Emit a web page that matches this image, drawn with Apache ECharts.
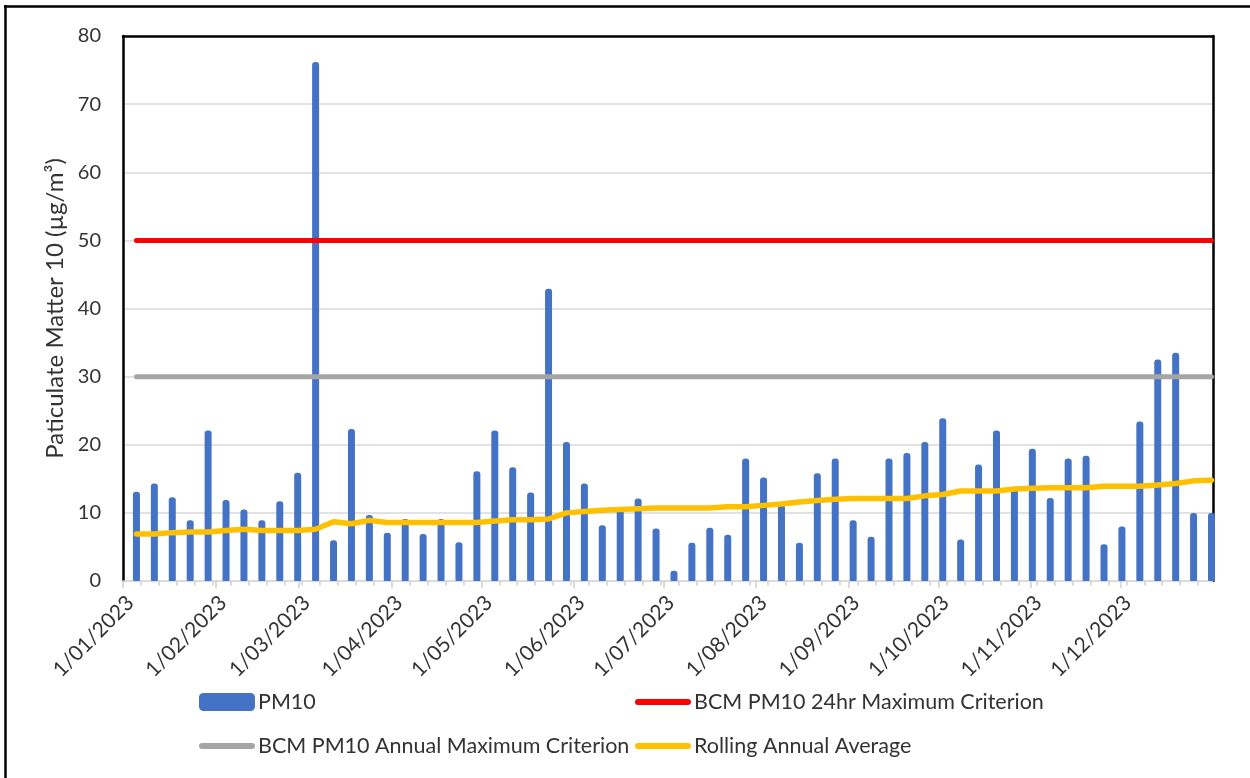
<!DOCTYPE html>
<html>
<head>
<meta charset="utf-8">
<script src="https://cdn.jsdelivr.net/npm/echarts@6/dist/echarts.min.js"></script>
<style>
  html, body { margin: 0; padding: 0; background: #ffffff; }
  #chart { width: 1250px; height: 778px; }
</style>
</head>
<body>
<div id="chart"></div>
<script>
// Sampling dates (every sixth day through 2023)
const sampleDates = [
  '2023-01-05','2023-01-11','2023-01-17','2023-01-23','2023-01-29',
  '2023-02-04','2023-02-10','2023-02-16','2023-02-22','2023-02-28',
  '2023-03-06','2023-03-12','2023-03-18','2023-03-24','2023-03-30',
  '2023-04-05','2023-04-11','2023-04-17','2023-04-23','2023-04-29',
  '2023-05-05','2023-05-11','2023-05-17','2023-05-23','2023-05-29',
  '2023-06-04','2023-06-10','2023-06-16','2023-06-22','2023-06-28',
  '2023-07-04','2023-07-10','2023-07-16','2023-07-22','2023-07-28',
  '2023-08-03','2023-08-09','2023-08-15','2023-08-21','2023-08-27',
  '2023-09-02','2023-09-08','2023-09-14','2023-09-20','2023-09-26',
  '2023-10-02','2023-10-08','2023-10-14','2023-10-20','2023-10-26',
  '2023-11-01','2023-11-07','2023-11-13','2023-11-19','2023-11-25',
  '2023-12-01','2023-12-07','2023-12-13','2023-12-19','2023-12-25','2023-12-31'
];

// 24-hour PM10 concentrations (µg/m³)
const pm10 = [
  13.1, 14.3, 12.3, 8.9, 22.1, 11.9, 10.5, 8.9, 11.7, 15.9,
  76.2, 6.0, 22.3, 9.7, 7.1, 9.1, 6.9, 9.1, 5.7, 16.1,
  22.1, 16.7, 13.0, 42.9, 20.4, 14.3, 8.2, 10.6, 12.1, 7.7,
  1.5, 5.6, 7.8, 6.8, 18.0, 15.2, 11.2, 5.6, 15.8, 18.0,
  8.9, 6.5, 18.0, 18.8, 20.4, 23.9, 6.1, 17.1, 22.1, 13.8,
  19.4, 12.2, 18.0, 18.4, 5.4, 8.0, 23.4, 32.5, 33.5, 10.0, 10.0
];

// Rolling annual average (µg/m³)
const rollingAverage = [
  6.9, 6.9, 7.1, 7.2, 7.2, 7.4, 7.6, 7.4, 7.4, 7.4,
  7.6, 8.7, 8.4, 8.9, 8.6, 8.6, 8.6, 8.6, 8.6, 8.6,
  8.8, 9.0, 9.0, 9.1, 10.0, 10.2, 10.4, 10.5, 10.6, 10.7,
  10.7, 10.7, 10.7, 10.9, 10.9, 11.1, 11.3, 11.6, 11.8, 12.0,
  12.1, 12.1, 12.1, 12.1, 12.5, 12.7, 13.2, 13.2, 13.2, 13.5,
  13.6, 13.7, 13.7, 13.7, 13.9, 13.9, 13.9, 14.1, 14.3, 14.7, 14.8
];

// Assessment criteria (µg/m³)
const criterion24hr = 50;
const criterionAnnual = 30;

// Month-start tick labels on the date axis
const monthLabels = [
  '1/01/2023','1/02/2023','1/03/2023','1/04/2023','1/05/2023','1/06/2023',
  '1/07/2023','1/08/2023','1/09/2023','1/10/2023','1/11/2023','1/12/2023'
];

// Value axis ticks
const yTicks = { min: 0, max: 80, interval: 10 };

const FONT = 'Lato';
const TEXT = '#333333';

function parseDMY(s) {
  const p = s.split('/');
  return new Date(+p[2], +p[1] - 1, +p[0]).getTime();
}
function parseISO(s, hour) {
  const p = s.split('-');
  return new Date(+p[0], +p[1] - 1, +p[2], hour || 0).getTime();
}

// each sample sits in the middle of its day
const xs = sampleDates.map(d => parseISO(d, 12));
const monthTicks = monthLabels.map(parseDMY);
const labelByTime = {};
monthLabels.forEach((l, i) => { labelByTime[monthTicks[i]] = l; });

const xMin = new Date(2023, 0, 1).getTime();
const xMax = new Date(2024, 0, 1).getTime();

// minor ticks every six days from the start of the year
const minorTicks = [];
for (let t = new Date(2023, 0, 1); t.getTime() <= xMax; t.setDate(t.getDate() + 6)) {
  minorTicks.push(t.getTime());
}

// thick rounded stroke used as the legend key for the line series
const LINE_KEY = 'path://M3,0L53,0A3,3,0,0,1,53,6L3,6A3,3,0,0,1,3,0Z';

const chart = echarts.init(document.getElementById('chart'), null, { renderer: 'canvas' });

const legendBase = {
  orient: 'horizontal',
  itemGap: 0,
  padding: 0,
  textStyle: { fontFamily: FONT, fontSize: 21.5, color: TEXT, padding: [0, 0, 0, -2] }
};

chart.setOption({
  animation: false,
  backgroundColor: '#ffffff',
  textStyle: { fontFamily: FONT },
  grid: { left: 123, right: 37, top: 36, bottom: 197, containLabel: false },
  xAxis: [
    {
      type: 'value',
      min: xMin,
      max: xMax,
      position: 'bottom',
      axisLine: { show: true, lineStyle: { color: '#d9d9d9', width: 1.5 } },
      axisTick: { show: true, customValues: monthTicks, length: 7, lineStyle: { color: '#d0d0d0', width: 1.5 } },
      axisLabel: {
        show: true,
        customValues: monthTicks,
        rotate: 45,
        margin: 11,
        verticalAlign: 'top',
        fontFamily: FONT,
        fontSize: 21,
        color: TEXT,
        formatter: v => labelByTime[v] || ''
      },
      splitLine: { show: false }
    },
    {
      type: 'value',
      min: xMin,
      max: xMax,
      position: 'bottom',
      axisLine: { show: false },
      axisTick: { show: true, customValues: minorTicks, length: 4.5, lineStyle: { color: '#d0d0d0', width: 1.5 } },
      axisLabel: { show: false },
      splitLine: { show: false }
    },
    {
      type: 'value',
      min: xMin,
      max: xMax,
      position: 'top',
      axisLine: { show: true, lineStyle: { color: '#000000', width: 2.5 } },
      axisTick: { show: false },
      axisLabel: { show: false },
      splitLine: { show: false }
    }
  ],
  yAxis: [
    {
      type: 'value',
      min: yTicks.min,
      max: yTicks.max,
      interval: yTicks.interval,
      name: 'Paticulate Matter 10 (µg/m³)',
      nameLocation: 'middle',
      nameRotate: 90,
      nameGap: 56,
      nameTextStyle: { fontFamily: FONT, fontSize: 24, color: TEXT },
      axisLine: { show: true, lineStyle: { color: '#000000', width: 2.5 } },
      axisTick: { show: false },
      axisLabel: { fontFamily: FONT, fontSize: 20, color: TEXT, margin: 22 },
      splitLine: { show: true, lineStyle: { color: '#d9d9d9', width: 1.5 } }
    },
    {
      type: 'value',
      min: yTicks.min,
      max: yTicks.max,
      position: 'right',
      axisLine: { show: true, lineStyle: { color: '#000000', width: 2.5 } },
      axisTick: { show: false },
      axisLabel: { show: false },
      splitLine: { show: false }
    }
  ],
  legend: [
    Object.assign({}, legendBase, {
      data: [{ name: 'PM10', icon: 'roundRect' }],
      left: 199, top: 691, itemWidth: 56, itemHeight: 18
    }),
    Object.assign({}, legendBase, {
      data: [{ name: 'BCM PM10 24hr Maximum Criterion', icon: LINE_KEY }],
      left: 635, top: 691, itemWidth: 56, itemHeight: 6
    }),
    Object.assign({}, legendBase, {
      data: [{ name: 'BCM PM10 Annual Maximum Criterion', icon: LINE_KEY }],
      left: 199, top: 735, itemWidth: 56, itemHeight: 6
    }),
    Object.assign({}, legendBase, {
      data: [{ name: 'Rolling Annual Average', icon: LINE_KEY }],
      left: 635, top: 735, itemWidth: 56, itemHeight: 6
    })
  ],
  graphic: [
    { type: 'line', shape: { x1: 5.5, y1: 5, x2: 5.5, y2: 778 }, style: { stroke: '#000', lineWidth: 2.5 } },
    { type: 'line', shape: { x1: 4, y1: 6.5, x2: 1250, y2: 6.5 }, style: { stroke: '#000', lineWidth: 2.5 } }
  ],
  series: [
    {
      name: 'PM10',
      type: 'bar',
      xAxisIndex: 0,
      yAxisIndex: 0,
      barWidth: 7,
      itemStyle: { color: '#4472C4', borderRadius: [3, 3, 1, 1] },
      data: xs.map((x, i) => [x, pm10[i]])
    },
    {
      name: 'BCM PM10 24hr Maximum Criterion',
      type: 'line',
      xAxisIndex: 0,
      yAxisIndex: 0,
      symbol: 'none',
      lineStyle: { color: '#FF0000', width: 5, cap: 'round' },
      itemStyle: { color: '#FF0000' },
      data: xs.map(x => [x, criterion24hr])
    },
    {
      name: 'BCM PM10 Annual Maximum Criterion',
      type: 'line',
      xAxisIndex: 0,
      yAxisIndex: 0,
      symbol: 'none',
      lineStyle: { color: '#A5A5A5', width: 5, cap: 'round' },
      itemStyle: { color: '#A5A5A5' },
      data: xs.map(x => [x, criterionAnnual])
    },
    {
      name: 'Rolling Annual Average',
      type: 'line',
      xAxisIndex: 0,
      yAxisIndex: 0,
      symbol: 'none',
      lineStyle: { color: '#FFC000', width: 5.5, cap: 'round', join: 'round' },
      itemStyle: { color: '#FFC000' },
      data: xs.map((x, i) => [x, rollingAverage[i]])
    }
  ]
});
</script>
</body>
</html>
